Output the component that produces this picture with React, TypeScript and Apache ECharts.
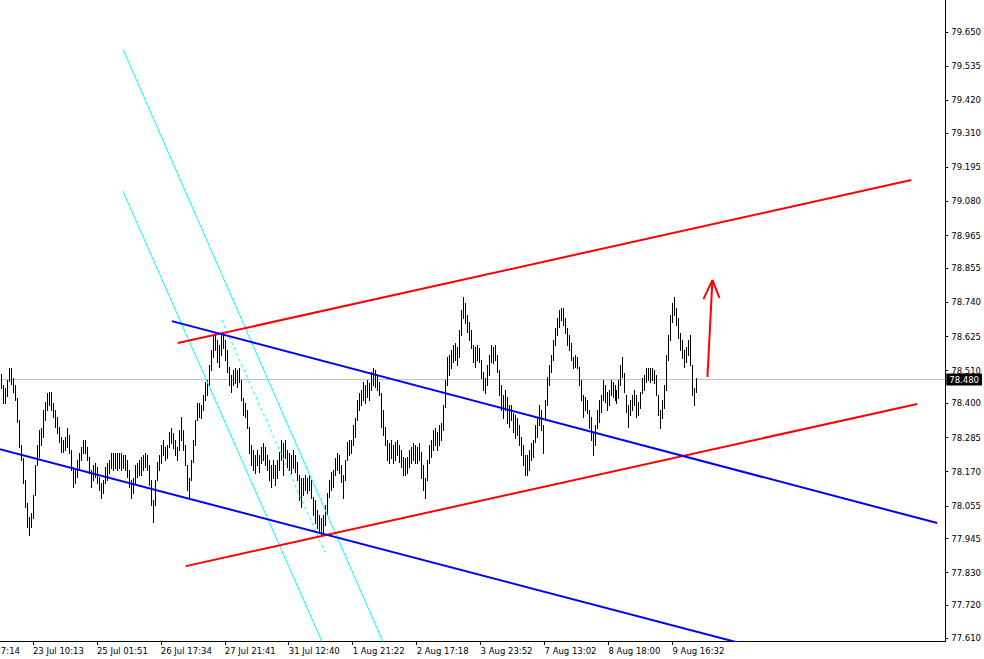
import React, { useEffect, useRef } from "react";
import * as echarts from "echarts";

// ---- axis texts ----
const xTickLabels = [
  "20 Jul 17:14", "23 Jul 10:13", "25 Jul 01:51", "26 Jul 17:34", "27 Jul 21:41", "31 Jul 12:40",
  "1 Aug 21:22", "2 Aug 17:18", "3 Aug 23:52", "7 Aug 13:02", "8 Aug 18:00", "9 Aug 16:32",
];
const firstLabelBar = -16; // bar index of the first (clipped) time label
const barsPerLabel = 32;
const yTickLabels = [
  "77.610", "77.720", "77.830", "77.945", "78.055", "78.170", "78.285", "78.400", "78.510", "78.625",
  "78.740", "78.855", "78.965", "79.080", "79.195", "79.310", "79.420", "79.535", "79.650",
];
const currentPrice = 78.48;

// ---- price bars (high / low), oldest first ----
const highs = [
  78.499, 78.462, 78.452, 78.478, 78.519, 78.519, 78.485, 78.462, 78.418, 78.344,
  78.260, 78.216, 78.142, 78.065, 78.017, 78.031, 78.091, 78.192, 78.260, 78.310,
  78.317, 78.377, 78.404, 78.435, 78.438, 78.438, 78.401, 78.377, 78.354, 78.320,
  78.287, 78.276, 78.287, 78.317, 78.293, 78.243, 78.186, 78.176, 78.209, 78.233,
  78.253, 78.276, 78.276, 78.253, 78.219, 78.176, 78.192, 78.199, 78.186, 78.152,
  78.132, 78.142, 78.186, 78.199, 78.209, 78.233, 78.233, 78.233, 78.233, 78.233,
  78.233, 78.226, 78.226, 78.209, 78.176, 78.142, 78.149, 78.192, 78.199, 78.209,
  78.219, 78.226, 78.233, 78.226, 78.192, 78.142, 78.075, 78.142, 78.202, 78.226,
  78.260, 78.276, 78.253, 78.260, 78.303, 78.317, 78.300, 78.276, 78.253, 78.310,
  78.354, 78.310, 78.260, 78.192, 78.149, 78.209, 78.276, 78.344, 78.401, 78.401,
  78.394, 78.428, 78.472, 78.478, 78.529, 78.579, 78.630, 78.637, 78.613, 78.596,
  78.630, 78.640, 78.613, 78.579, 78.522, 78.495, 78.512, 78.519, 78.512, 78.519,
  78.478, 78.418, 78.401, 78.377, 78.320, 78.260, 78.243, 78.226, 78.243, 78.226,
  78.253, 78.266, 78.253, 78.226, 78.209, 78.192, 78.209, 78.192, 78.209, 78.236,
  78.276, 78.266, 78.276, 78.243, 78.233, 78.226, 78.243, 78.226, 78.202, 78.159,
  78.149, 78.149, 78.159, 78.149, 78.159, 78.142, 78.085, 78.075, 78.041, 78.024,
  78.014, 78.024, 78.058, 78.098, 78.142, 78.169, 78.176, 78.216, 78.233, 78.226,
  78.192, 78.159, 78.209, 78.270, 78.276, 78.276, 78.327, 78.351, 78.411, 78.435,
  78.445, 78.472, 78.462, 78.478, 78.468, 78.505, 78.519, 78.512, 78.495, 78.472,
  78.435, 78.377, 78.320, 78.276, 78.266, 78.276, 78.260, 78.270, 78.276, 78.260,
  78.243, 78.219, 78.216, 78.219, 78.243, 78.253, 78.266, 78.260, 78.253, 78.266,
  78.236, 78.192, 78.149, 78.209, 78.260, 78.276, 78.310, 78.317, 78.303, 78.327,
  78.334, 78.394, 78.478, 78.556, 78.563, 78.579, 78.596, 78.603, 78.590, 78.647,
  78.714, 78.758, 78.738, 78.697, 78.674, 78.647, 78.596, 78.590, 78.596, 78.586,
  78.546, 78.505, 78.485, 78.529, 78.563, 78.596, 78.590, 78.596, 78.563, 78.512,
  78.462, 78.428, 78.445, 78.421, 78.394, 78.394, 78.367, 78.361, 78.351, 78.327,
  78.287, 78.260, 78.226, 78.226, 78.243, 78.266, 78.276, 78.327, 78.354, 78.394,
  78.377, 78.327, 78.411, 78.489, 78.529, 78.563, 78.613, 78.654, 78.687, 78.714,
  78.721, 78.721, 78.687, 78.654, 78.630, 78.603, 78.556, 78.563, 78.556, 78.522,
  78.478, 78.428, 78.421, 78.411, 78.377, 78.354, 78.300, 78.327, 78.377, 78.411,
  78.428, 78.478, 78.462, 78.438, 78.445, 78.478, 78.472, 78.462, 78.445, 78.478,
  78.529, 78.556, 78.502, 78.428, 78.394, 78.411, 78.428, 78.445, 78.428, 78.404,
  78.438, 78.485, 78.495, 78.519, 78.519, 78.519, 78.519, 78.512, 78.495, 78.428,
  78.377, 78.411, 78.462, 78.563, 78.630, 78.697, 78.738, 78.758, 78.721, 78.687,
  78.637, 78.613, 78.579, 78.590, 78.613, 78.630, 78.529, 78.452, 78.485,
];
const lows = [
  78.452, 78.401, 78.401, 78.425, 78.475, 78.465, 78.438, 78.411, 78.337, 78.253,
  78.209, 78.132, 78.051, 77.984, 77.957, 77.984, 78.014, 78.091, 78.192, 78.219,
  78.260, 78.287, 78.344, 78.377, 78.394, 78.377, 78.354, 78.320, 78.300, 78.270,
  78.236, 78.236, 78.243, 78.253, 78.233, 78.176, 78.118, 78.132, 78.152, 78.176,
  78.209, 78.233, 78.233, 78.209, 78.165, 78.118, 78.142, 78.152, 78.132, 78.108,
  78.081, 78.098, 78.132, 78.142, 78.165, 78.182, 78.176, 78.182, 78.176, 78.182,
  78.176, 78.182, 78.176, 78.152, 78.118, 78.081, 78.098, 78.132, 78.152, 78.159,
  78.159, 78.176, 78.186, 78.176, 78.125, 78.058, 78.001, 78.058, 78.142, 78.176,
  78.199, 78.226, 78.209, 78.216, 78.253, 78.266, 78.250, 78.226, 78.209, 78.243,
  78.276, 78.243, 78.192, 78.108, 78.081, 78.142, 78.202, 78.260, 78.344, 78.354,
  78.351, 78.377, 78.411, 78.428, 78.462, 78.512, 78.556, 78.579, 78.539, 78.522,
  78.563, 78.586, 78.546, 78.505, 78.462, 78.438, 78.462, 78.468, 78.455, 78.472,
  78.411, 78.361, 78.354, 78.317, 78.233, 78.192, 78.176, 78.165, 78.192, 78.169,
  78.199, 78.209, 78.192, 78.176, 78.142, 78.118, 78.149, 78.125, 78.149, 78.176,
  78.209, 78.159, 78.216, 78.186, 78.176, 78.165, 78.182, 78.169, 78.142, 78.075,
  78.051, 78.091, 78.108, 78.098, 78.108, 78.081, 78.024, 77.997, 77.980, 77.967,
  77.957, 77.967, 77.990, 78.024, 78.085, 78.108, 78.118, 78.159, 78.176, 78.165,
  78.135, 78.081, 78.142, 78.209, 78.226, 78.233, 78.260, 78.287, 78.344, 78.377,
  78.394, 78.411, 78.401, 78.421, 78.411, 78.445, 78.462, 78.455, 78.445, 78.428,
  78.320, 78.293, 78.260, 78.209, 78.199, 78.216, 78.199, 78.209, 78.226, 78.202,
  78.186, 78.159, 78.159, 78.165, 78.186, 78.199, 78.209, 78.199, 78.199, 78.209,
  78.149, 78.108, 78.081, 78.142, 78.199, 78.219, 78.243, 78.260, 78.243, 78.260,
  78.276, 78.310, 78.388, 78.462, 78.495, 78.519, 78.539, 78.546, 78.529, 78.556,
  78.630, 78.687, 78.670, 78.640, 78.613, 78.586, 78.539, 78.522, 78.546, 78.539,
  78.485, 78.445, 78.435, 78.462, 78.495, 78.539, 78.536, 78.546, 78.505, 78.428,
  78.377, 78.351, 78.377, 78.334, 78.320, 78.344, 78.303, 78.283, 78.293, 78.260,
  78.226, 78.192, 78.159, 78.159, 78.176, 78.209, 78.219, 78.270, 78.287, 78.327,
  78.310, 78.233, 78.344, 78.394, 78.462, 78.505, 78.546, 78.596, 78.630, 78.657,
  78.680, 78.664, 78.637, 78.596, 78.579, 78.546, 78.519, 78.522, 78.519, 78.462,
  78.411, 78.354, 78.377, 78.367, 78.317, 78.276, 78.226, 78.260, 78.317, 78.337,
  78.371, 78.411, 78.404, 78.377, 78.394, 78.428, 78.421, 78.411, 78.401, 78.418,
  78.462, 78.489, 78.438, 78.371, 78.320, 78.361, 78.377, 78.394, 78.354, 78.361,
  78.384, 78.435, 78.445, 78.472, 78.478, 78.472, 78.478, 78.468, 78.428, 78.361,
  78.317, 78.351, 78.384, 78.445, 78.546, 78.613, 78.674, 78.697, 78.664, 78.620,
  78.579, 78.553, 78.522, 78.539, 78.563, 78.529, 78.428, 78.394, 78.438,
];

// ---- drawn objects: [bar index, price] end points ----
const redUpperLine = [[88.5, 78.603], [455.5, 79.152]];
const redLowerLine = [[92.5, 77.852], [458.5, 78.398]];
const blueUpperLine = [[85.5, 78.677], [468.5, 77.997]];
const blueLowerLine = [[-12, 78.266], [388, 77.561]];
const cyanLineA = [[61, 79.593], [195.15, 77.536]];
const cyanLineB = [[61, 79.115], [164.7, 77.536]];
const cyanDashed = [[110.5, 78.68], [162, 77.9]];
const arrowShaft = [[353.5, 78.489], [356, 78.815]];
const arrowHead = [[351.5, 78.751], [356, 78.815], [359.5, 78.755]];

const FONT = "DejaVu Sans";

export default function App() {
  const ref = useRef<HTMLDivElement>(null);
  useEffect(() => {
    document.body.style.margin = "0";
    const chart = echarts.init(ref.current!, null, { renderer: "svg" });
    const xTickValues = xTickLabels.map((_, m) => firstLabelBar + m * barsPerLabel);
    const yTickValues = yTickLabels.map((s) => Number(s));
    const barData = highs.map((h, k) => [k, h, lows[k]]);
    const lineSeries = (data: number[][], color: string, width: number, type: any = "solid") => ({
      type: "line",
      data,
      symbol: "none",
      silent: true,
      z: 3,
      lineStyle: { color, width, type },
    });
    chart.setOption({
      animation: false,
      backgroundColor: "#ffffff",
      textStyle: { fontFamily: FONT },
      grid: { left: 0, right: 38, top: 0, bottom: 18 },
      xAxis: {
        type: "value",
        min: -32.5,
        max: 472.5,
        axisLine: { show: true, onZero: false, lineStyle: { color: "#000", width: 1 } },
        axisTick: { show: true, customValues: xTickValues, length: 4, lineStyle: { color: "#000" } },
        axisLabel: {
          customValues: xTickValues,
          formatter: (v: number) => xTickLabels[Math.round((v - firstLabelBar) / barsPerLabel)] ?? "",
          align: "left",
          margin: 5,
          color: "#000",
          fontSize: 8.5,
          fontFamily: FONT,
        },
        splitLine: { show: false },
      },
      yAxis: {
        type: "value",
        position: "right",
        min: 77.6,
        max: 79.758,
        axisLine: { show: true, onZero: false, lineStyle: { color: "#000", width: 1 } },
        axisTick: { show: true, customValues: yTickValues, length: 3, lineStyle: { color: "#000" } },
        axisLabel: {
          customValues: yTickValues,
          formatter: (v: number) => v.toFixed(3),
          margin: 6,
          color: "#000",
          fontSize: 8.5,
          fontFamily: FONT,
        },
        splitLine: { show: false },
      },
      series: [
        {
          type: "custom",
          data: barData,
          encode: { x: 0, y: [1, 2] },
          silent: true,
          z: 2,
          renderItem: (_params: any, api: any) => {
            const top = api.coord([api.value(0), api.value(1)]);
            const bot = api.coord([api.value(0), api.value(2)]);
            const x = Math.round(top[0]) + 0.5;
            return {
              type: "line",
              shape: { x1: x, y1: Math.round(top[1]), x2: x, y2: Math.round(bot[1]) + 1 },
              style: { stroke: "#000", lineWidth: 1 },
            };
          },
          markLine: {
            silent: true,
            symbol: "none",
            z: 1,
            data: [{ yAxis: currentPrice }],
            lineStyle: { color: "#c0c0c0", width: 1, type: "solid" },
            label: {
              show: true,
              position: "end",
              distance: 1,
              formatter: (p: any) => Number(p.value).toFixed(3),
              backgroundColor: "#000",
              color: "#fff",
              padding: [2, 3, 1, 3],
              fontSize: 8.5,
              fontFamily: FONT,
            },
          },
        },
        lineSeries(cyanLineA, "#00ffff", 1),
        lineSeries(cyanLineB, "#00ffff", 1),
        lineSeries(cyanDashed, "#00ffff", 1, [3, 3]),
        lineSeries(redUpperLine, "#ff0000", 2),
        lineSeries(redLowerLine, "#ff0000", 2),
        lineSeries(blueUpperLine, "#0000ff", 2),
        lineSeries(blueLowerLine, "#0000ff", 2),
        lineSeries(arrowShaft, "#ff0000", 2),
        lineSeries(arrowHead, "#ff0000", 2),
      ],
    });
    return () => chart.dispose();
  }, []);
  return (
    <div style={{ width: 984, height: 659, overflow: "hidden", position: "relative", background: "#fff" }}>
      <div ref={ref} style={{ position: "absolute", left: -64, top: 0, width: 1048, height: 659 }} />
    </div>
  );
}
